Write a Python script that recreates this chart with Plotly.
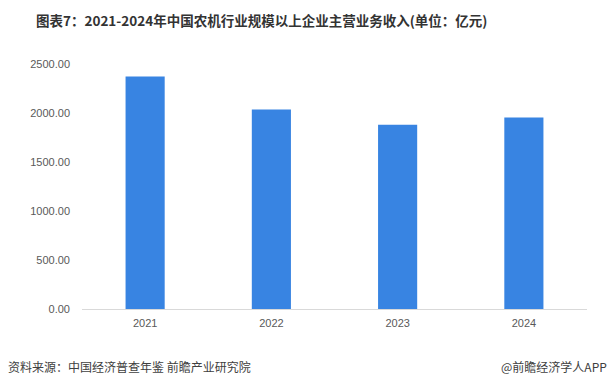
import plotly.graph_objects as go

years = ["2021", "2022", "2023", "2024"]
revenue = [2372, 2035, 1881, 1953]
y_ticks = [0, 500, 1000, 1500, 2000, 2500]

title_text = "图表7：2021-2024年中国农机行业规模以上企业主营业务收入(单位：亿元)"
source_text = "资料来源：中国经济普查年鉴 前瞻产业研究院"
brand_text = "@前瞻经济学人APP"

fig = go.Figure()
fig.add_trace(go.Bar(
    x=years, y=revenue,
    marker=dict(color="#3884e2", line=dict(width=0)),
    width=0.31,
))

fig.update_layout(
    width=611, height=390,
    margin=dict(l=82, r=24, t=64, b=81),
    paper_bgcolor="white", plot_bgcolor="white",
    showlegend=False,
    font=dict(family="Liberation Sans, Noto Sans CJK SC", color="#595959", size=11),
    xaxis=dict(
        showgrid=False, showline=True, linecolor="#d9d9d9", linewidth=1,
        ticks="", tickfont=dict(size=11, color="#595959"), ticklabelstandoff=4,
    ),
    yaxis=dict(
        range=[0, 2500], tickvals=y_ticks, tickformat=".2f",
        showgrid=False, zeroline=False, showline=False,
        ticks="", ticklen=0, tickfont=dict(size=11, color="#595959"),
        ticklabelstandoff=11,
    ),
    annotations=[
        dict(text="<b>" + title_text + "</b>", xref="paper", yref="paper",
             x=(261 - 82) / 505, y=1 + (64 - 20) / 245, xanchor="center", yanchor="middle",
             showarrow=False, font=dict(family="Noto Sans CJK SC", size=13.5, color="#333333")),
        dict(text=source_text, xref="paper", yref="paper",
             x=-(82 - 6) / 505, y=-(366 - 309) / 245, xanchor="left", yanchor="middle",
             showarrow=False, font=dict(family="Noto Sans CJK SC", size=12, color="#404040")),
        dict(text=brand_text, xref="paper", yref="paper",
             x=1 + (609 - 587) / 505, y=-(366 - 309) / 245, xanchor="right", yanchor="middle",
             showarrow=False, font=dict(family="Noto Sans CJK SC", size=12, color="#404040")),
    ],
)

fig.write_html("out.html", config={"displayModeBar": False},
               post_script="document.body.style.margin='0';document.body.style.padding='0';")
